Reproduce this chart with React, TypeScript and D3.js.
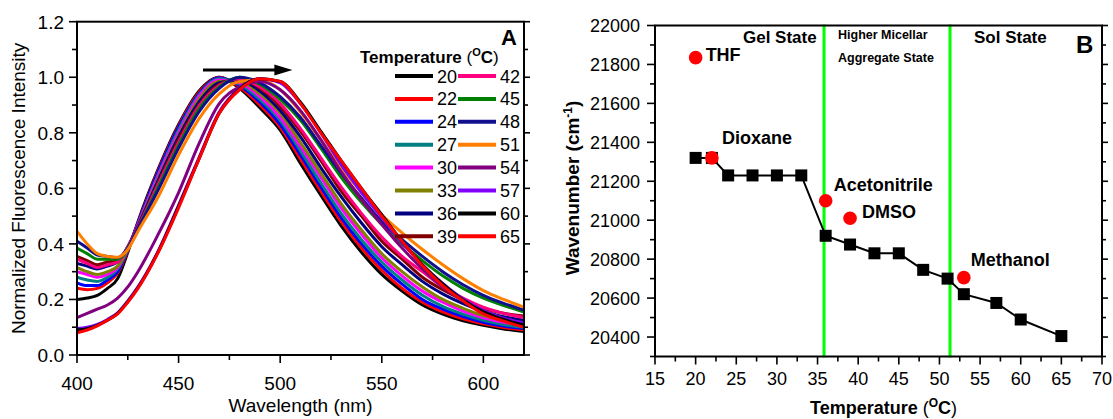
import React from 'react';
import * as d3 from 'd3';

const FONT = '"Liberation Sans", Arial, Helvetica, sans-serif';

// ---- Panel A: normalized emission spectra at each temperature ----
const WAVELENGTHS = [400, 405, 410, 415, 420, 425, 430, 440, 450, 460, 470, 480, 490, 500, 510, 520, 530, 540, 550, 560, 570, 580, 590, 600, 610, 620];
const TEMPS = [20, 22, 24, 27, 30, 33, 36, 39, 42, 45, 48, 51, 54, 57, 60, 65];
const COLORS = ['#000000', '#ff0000', '#0000ff', '#008080', '#ff00ff', '#808000', '#000080', '#800000',
  '#ff0080', '#008000', '#10108f', '#ff8000', '#800080', '#8000ff', '#000000', '#ff0000'];

const I20 = [0.20, 0.205, 0.215, 0.24, 0.275, 0.37, 0.48, 0.67, 0.83, 0.95, 1.0, 0.96, 0.89, 0.81, 0.69, 0.575, 0.465, 0.37, 0.29, 0.23, 0.18, 0.147, 0.123, 0.107, 0.094, 0.085];
const I22 = [0.24, 0.235, 0.24, 0.26, 0.295, 0.375, 0.475, 0.665, 0.825, 0.945, 1.0, 0.965, 0.90, 0.82, 0.705, 0.59, 0.48, 0.385, 0.305, 0.24, 0.19, 0.155, 0.13, 0.112, 0.099, 0.09];
const I24 = [0.26, 0.25, 0.25, 0.27, 0.30, 0.38, 0.475, 0.66, 0.82, 0.94, 0.998, 0.97, 0.91, 0.83, 0.72, 0.605, 0.495, 0.40, 0.32, 0.255, 0.20, 0.165, 0.138, 0.118, 0.104, 0.095];
const I27 = [0.28, 0.27, 0.265, 0.28, 0.31, 0.38, 0.47, 0.65, 0.81, 0.935, 0.995, 0.975, 0.92, 0.845, 0.735, 0.62, 0.51, 0.415, 0.335, 0.27, 0.215, 0.175, 0.147, 0.125, 0.11, 0.10];
const I30 = [0.30, 0.29, 0.28, 0.29, 0.315, 0.385, 0.47, 0.645, 0.80, 0.93, 0.99, 0.98, 0.93, 0.855, 0.75, 0.64, 0.53, 0.435, 0.35, 0.285, 0.23, 0.19, 0.158, 0.134, 0.118, 0.108];
const I33 = [0.315, 0.30, 0.29, 0.30, 0.32, 0.385, 0.465, 0.635, 0.79, 0.92, 0.985, 0.985, 0.94, 0.87, 0.765, 0.655, 0.545, 0.45, 0.365, 0.30, 0.245, 0.20, 0.168, 0.142, 0.125, 0.115];
const I36 = [0.33, 0.32, 0.31, 0.32, 0.335, 0.39, 0.465, 0.63, 0.785, 0.91, 0.98, 0.99, 0.95, 0.88, 0.785, 0.675, 0.57, 0.475, 0.39, 0.325, 0.265, 0.22, 0.185, 0.157, 0.138, 0.125];
const I39 = [0.355, 0.34, 0.325, 0.335, 0.34, 0.385, 0.46, 0.62, 0.775, 0.90, 0.975, 0.995, 0.96, 0.895, 0.805, 0.70, 0.59, 0.50, 0.41, 0.345, 0.28, 0.235, 0.198, 0.168, 0.15, 0.14];
const I42 = [0.345, 0.33, 0.315, 0.325, 0.335, 0.39, 0.46, 0.615, 0.765, 0.895, 0.97, 0.995, 0.965, 0.905, 0.815, 0.71, 0.605, 0.51, 0.425, 0.355, 0.30, 0.245, 0.205, 0.172, 0.15, 0.135];
const I45 = [0.385, 0.365, 0.345, 0.345, 0.345, 0.385, 0.455, 0.605, 0.755, 0.885, 0.965, 1.0, 0.975, 0.92, 0.845, 0.745, 0.64, 0.55, 0.47, 0.40, 0.34, 0.285, 0.24, 0.205, 0.178, 0.155];
const I48 = [0.41, 0.385, 0.36, 0.355, 0.35, 0.385, 0.455, 0.595, 0.745, 0.875, 0.96, 1.0, 0.98, 0.93, 0.855, 0.755, 0.655, 0.565, 0.48, 0.415, 0.355, 0.30, 0.253, 0.215, 0.186, 0.162];
const I51 = [0.445, 0.40, 0.365, 0.355, 0.352, 0.38, 0.445, 0.57, 0.72, 0.85, 0.94, 0.985, 0.99, 0.955, 0.875, 0.775, 0.675, 0.585, 0.505, 0.44, 0.38, 0.325, 0.275, 0.232, 0.20, 0.172];
const I54 = [0.135, 0.15, 0.165, 0.18, 0.205, 0.245, 0.30, 0.435, 0.585, 0.76, 0.905, 0.965, 0.985, 0.955, 0.88, 0.775, 0.66, 0.56, 0.47, 0.385, 0.31, 0.245, 0.195, 0.158, 0.132, 0.115];
const I57 = [0.095, 0.10, 0.11, 0.128, 0.152, 0.195, 0.245, 0.375, 0.54, 0.71, 0.875, 0.96, 0.995, 0.98, 0.905, 0.80, 0.685, 0.585, 0.495, 0.405, 0.325, 0.258, 0.202, 0.16, 0.132, 0.115];
const I60 = [0.09, 0.095, 0.107, 0.125, 0.15, 0.192, 0.242, 0.372, 0.535, 0.705, 0.87, 0.958, 0.995, 0.985, 0.91, 0.805, 0.70, 0.60, 0.505, 0.41, 0.325, 0.256, 0.198, 0.156, 0.128, 0.108];
const I65 = [0.08, 0.09, 0.105, 0.125, 0.148, 0.19, 0.24, 0.37, 0.53, 0.705, 0.87, 0.955, 0.995, 0.985, 0.905, 0.80, 0.70, 0.60, 0.50, 0.41, 0.322, 0.25, 0.195, 0.148, 0.122, 0.10];
const SPECTRA = [I20, I22, I24, I27, I30, I33, I36, I39, I42, I45, I48, I51, I54, I57, I60, I65];

const ARROW_NM = [462, 506];
const ARROW_Y = 1.026;

const A_X_TICKS = [400, 450, 500, 550, 600];
const A_X_MINOR = [425, 475, 525, 575];
const A_Y_TICKS = [0, 0.2, 0.4, 0.6, 0.8, 1.0, 1.2];
const A_Y_MINOR = [0.1, 0.3, 0.5, 0.7, 0.9, 1.1];

// ---- Panel B: emission maximum vs temperature ----
const TEMP_B = [20, 22, 24, 27, 30, 33, 36, 39, 42, 45, 48, 51, 53, 57, 60, 65];
const WAVENUMBER = [21320, 21320, 21230, 21230, 21230, 21230, 20920, 20875, 20830, 20830, 20745, 20700, 20620, 20575, 20490, 20405];
const SOLVENTS = ['THF', 'Dioxane', 'Acetonitrile', 'DMSO', 'Methanol'];
const SOLVENT_T = [20, 22, 36, 39, 53];
const SOLVENT_WN = [21835, 21320, 21100, 21010, 20705];
const PHASE_BOUNDS = [35.8, 51.3];

const B_X_TICKS = [15, 20, 25, 30, 35, 40, 45, 50, 55, 60, 65, 70];
const B_X_MINOR = [17.5, 22.5, 27.5, 32.5, 37.5, 42.5, 47.5, 52.5, 57.5, 62.5, 67.5];
const B_Y_TICKS = [20400, 20600, 20800, 21000, 21200, 21400, 21600, 21800, 22000];
const B_Y_MINOR = [20300, 20500, 20700, 20900, 21100, 21300, 21500, 21700, 21900];

const LABEL_OFFSETS = [[10, 3], [10, -14], [8, -10], [12, 0], [7, -12]];

export default function App() {
  const xA = d3.scaleLinear().domain([400, 620]).range([77, 524]);
  const yA = d3.scaleLinear().domain([0, 1.2]).range([355, 21.7]);
  const lineA = d3.line<number>()
    .x((_, i) => xA(WAVELENGTHS[i]))
    .y(d => yA(d))
    .curve(d3.curveMonotoneX);

  const xB = d3.scaleLinear().domain([15, 70]).range([655, 1102]);
  const yB = d3.scaleLinear().domain([20300, 22000]).range([356.5, 25.5]);
  const lineB = d3.line<number>()
    .x((_, i) => xB(TEMP_B[i]))
    .y(d => yB(d));

  const fmt1 = d3.format('.1f');
  const [aL, aR] = xA.range();
  const [aB, aT] = yA.range();
  const [bL, bR] = xB.range();
  const [bB, bT] = yB.range();

  return (
    <svg width={1113} height={419} style={{ position: 'absolute', left: 0, top: 0, background: '#fff' }}
      fontFamily={FONT}>
      {/* ---------- Panel A ---------- */}
      <g>
        <clipPath id="clipA">
          <rect x={aL} y={aT} width={aR - aL} height={aB - aT} />
        </clipPath>
        <g clipPath="url(#clipA)">
          {SPECTRA.map((s, i) => (
            <path key={i} d={lineA(s) || ''} fill="none" stroke={COLORS[i]} strokeWidth={3} strokeLinejoin="round" />
          ))}
        </g>
        <rect x={aL} y={aT} width={aR - aL} height={aB - aT} fill="none" stroke="#000" strokeWidth={2} />
        {A_X_TICKS.map(t => (
          <g key={t}>
            <line x1={xA(t)} x2={xA(t)} y1={aB} y2={aB + 8} stroke="#000" strokeWidth={1.6} />
            <text x={xA(t)} y={390} fontSize={19} textAnchor="middle">{t}</text>
          </g>
        ))}
        {A_X_MINOR.map(t => (
          <line key={t} x1={xA(t)} x2={xA(t)} y1={aB} y2={aB + 5} stroke="#000" strokeWidth={1.6} />
        ))}
        {A_Y_TICKS.map(t => (
          <g key={t}>
            <line x1={aL - 8} x2={aL} y1={yA(t)} y2={yA(t)} stroke="#000" strokeWidth={1.6} />
            <line x1={aR} x2={aR + 6} y1={yA(t)} y2={yA(t)} stroke="#000" strokeWidth={1.6} />
            <text x={64} y={yA(t) + 7} fontSize={19} textAnchor="end">{fmt1(t)}</text>
          </g>
        ))}
        {A_Y_MINOR.map(t => (
          <g key={t}>
            <line x1={aL - 5} x2={aL} y1={yA(t)} y2={yA(t)} stroke="#000" strokeWidth={1.6} />
            <line x1={aR} x2={aR + 4} y1={yA(t)} y2={yA(t)} stroke="#000" strokeWidth={1.6} />
          </g>
        ))}
        <text x={(aL + aR) / 2} y={412} fontSize={19} textAnchor="middle">Wavelength (nm)</text>
        <text transform={`translate(25,${(aT + aB) / 2}) rotate(-90)`} fontSize={19} textAnchor="middle">
          Normalized Fluorescence Intensity
        </text>
        <text x={501} y={45} fontSize={22} fontWeight="bold">A</text>

        {/* shift arrow */}
        <line x1={xA(ARROW_NM[0])} x2={xA(ARROW_NM[1]) - 15} y1={yA(ARROW_Y)} y2={yA(ARROW_Y)} stroke="#000" strokeWidth={3} />
        <path d={`M${xA(ARROW_NM[1])},${yA(ARROW_Y)} L${xA(ARROW_NM[1]) - 18},${yA(ARROW_Y) - 5.5} L${xA(ARROW_NM[1]) - 18},${yA(ARROW_Y) + 5.5} Z`} fill="#000" />

        {/* legend */}
        <text x={360} y={63} fontSize={17} fontWeight="bold">
          <tspan>Temperature </tspan>
          <tspan fontWeight="normal">(</tspan>
          <tspan fontSize={11} dy={-7}>O</tspan>
          <tspan dy={7}>C</tspan>
          <tspan fontWeight="normal">)</tspan>
        </text>
        {TEMPS.map((t, i) => {
          const col = Math.floor(i / 8);
          const row = i % 8;
          const y = 76 + row * 22.9;
          const x0 = col === 0 ? 395 : 458;
          return (
            <g key={t}>
              <line x1={x0} x2={x0 + 38} y1={y} y2={y} stroke={COLORS[i]} strokeWidth={4} />
              <text x={x0 + 42} y={y + 6.5} fontSize={18}>{t}</text>
            </g>
          );
        })}
      </g>

      {/* ---------- Panel B ---------- */}
      <g>
        {PHASE_BOUNDS.map(b => (
          <line key={b} x1={xB(b)} x2={xB(b)} y1={bT - 1} y2={bB + 1} stroke="#00ff00" strokeWidth={3} />
        ))}
        <path d={lineB(WAVENUMBER) || ''} fill="none" stroke="#000" strokeWidth={2} />
        {WAVENUMBER.map((w, i) => (
          <rect key={i} x={xB(TEMP_B[i]) - 6} y={yB(w) - 6} width={12} height={12} fill="#000" />
        ))}
        {SOLVENT_WN.map((w, i) => (
          <g key={SOLVENTS[i]}>
            <circle cx={xB(SOLVENT_T[i])} cy={yB(w)} r={6.8} fill="#ff0000" />
            <text x={xB(SOLVENT_T[i]) + LABEL_OFFSETS[i][0]} y={yB(w) + LABEL_OFFSETS[i][1]}
              fontSize={18} fontWeight="bold">{SOLVENTS[i]}</text>
          </g>
        ))}
        <rect x={bL} y={bT} width={bR - bL} height={bB - bT} fill="none" stroke="#000" strokeWidth={2} />
        {B_X_TICKS.map(t => (
          <g key={t}>
            <line x1={xB(t)} x2={xB(t)} y1={bB} y2={bB + 8} stroke="#000" strokeWidth={1.6} />
            <text x={xB(t)} y={385} fontSize={18} textAnchor="middle">{t}</text>
          </g>
        ))}
        {B_X_MINOR.map(t => (
          <line key={t} x1={xB(t)} x2={xB(t)} y1={bB} y2={bB + 5} stroke="#000" strokeWidth={1.6} />
        ))}
        {B_Y_TICKS.map(t => (
          <g key={t}>
            <line x1={bL - 8} x2={bL} y1={yB(t)} y2={yB(t)} stroke="#000" strokeWidth={1.6} />
            <line x1={bR} x2={bR + 6} y1={yB(t)} y2={yB(t)} stroke="#000" strokeWidth={1.6} />
            <text x={640} y={yB(t) + 6.5} fontSize={18} textAnchor="end">{t}</text>
          </g>
        ))}
        {B_Y_MINOR.map(t => (
          <g key={t}>
            <line x1={bL - 5} x2={bL} y1={yB(t)} y2={yB(t)} stroke="#000" strokeWidth={1.6} />
            <line x1={bR} x2={bR + 4} y1={yB(t)} y2={yB(t)} stroke="#000" strokeWidth={1.6} />
          </g>
        ))}
        <text x={(bL + bR) / 2 + 5} y={414} fontSize={18} fontWeight="bold" textAnchor="middle">
          <tspan>Temperature </tspan>
          <tspan fontWeight="normal">(</tspan>
          <tspan fontSize={12} dy={-7}>O</tspan>
          <tspan dy={7}>C</tspan>
          <tspan fontWeight="normal">)</tspan>
        </text>
        <text transform={`translate(579,188) rotate(-90)`} fontSize={19} fontWeight="bold" textAnchor="middle">
          <tspan>Wavenumber (cm</tspan>
          <tspan fontSize={12} dy={-7}>-1</tspan>
          <tspan dy={7}>)</tspan>
        </text>
        <text x={743} y={43} fontSize={17} fontWeight="bold">Gel State</text>
        <text x={974} y={43} fontSize={17} fontWeight="bold">Sol State</text>
        <text x={838} y={39} fontSize={12.5} fontWeight="bold">Higher Micellar</text>
        <text x={838} y={62} fontSize={12.5} fontWeight="bold">Aggregate State</text>
        <text x={1076} y={53} fontSize={24} fontWeight="bold">B</text>
      </g>
    </svg>
  );
}
